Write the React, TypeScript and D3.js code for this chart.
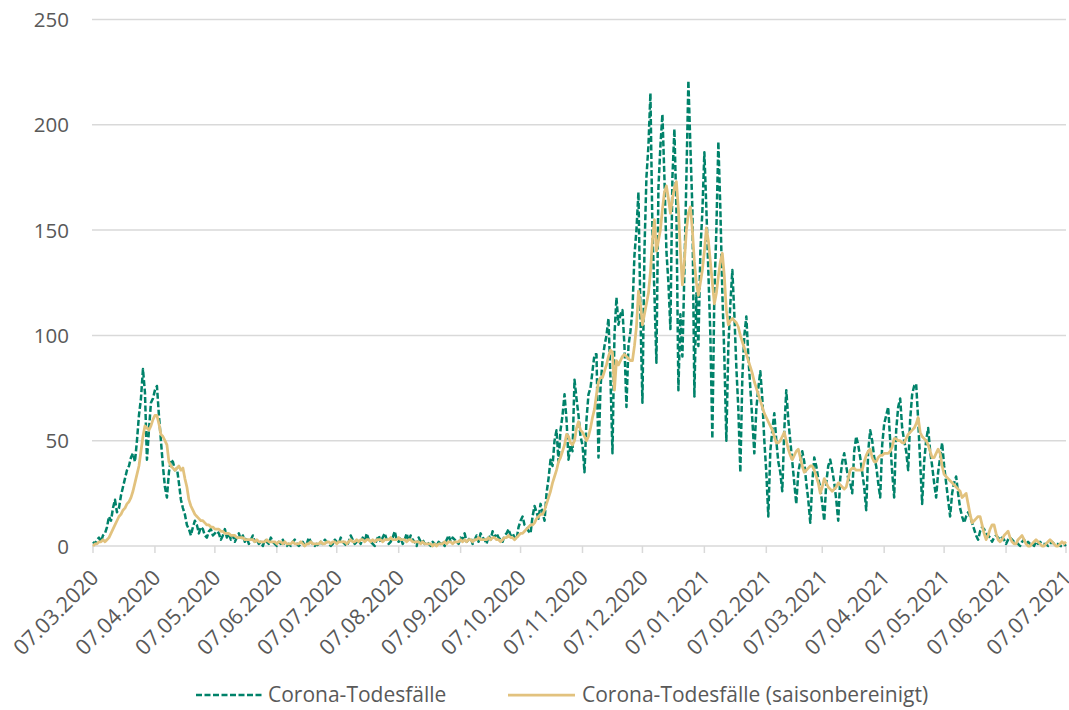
import { scaleLinear, scaleTime, line as d3_line, timeParse, timeDay } from "d3";

// daily values starting 07.03.2020, one row per week (Sat..Fri)
const todesfaelle = [
  2, 1, 3, 4, 2, 5, 6,
  9, 14, 12, 18, 22, 16, 18,
  24, 28, 32, 36, 38, 42, 44,
  40, 50, 62, 70, 84, 73, 41,
  55, 68, 70, 74, 76, 62, 50,
  38, 28, 23, 35, 41, 40, 36,
  37, 30, 22, 18, 15, 10, 8,
  5, 9, 12, 10, 6, 9, 8,
  5, 4, 7, 8, 5, 6, 7,
  6, 3, 5, 8, 4, 6, 3,
  5, 2, 4, 6, 3, 5, 2,
  4, 1, 3, 5, 2, 3, 1,
  2, 0, 3, 2, 1, 4, 2,
  1, 0, 2, 1, 3, 1, 0,
  1, 0, 2, 3, 1, 0, 1,
  2, 0, 1, 4, 2, 1, 0,
  1, 0, 2, 1, 3, 2, 1,
  0, 1, 3, 2, 1, 4, 2,
  1, 0, 2, 5, 3, 1, 2,
  3, 1, 4, 2, 6, 3, 2,
  1, 0, 3, 5, 2, 4, 6,
  3, 1, 2, 4, 7, 3, 2,
  4, 1, 3, 6, 2, 5, 3,
  2, 0, 4, 2, 3, 1, 2,
  1, 0, 2, 1, 0, 2, 1,
  2, 0, 3, 5, 2, 4, 3,
  2, 1, 4, 3, 6, 2, 3,
  4, 1, 3, 5, 2, 6, 4,
  3, 1, 5, 3, 7, 4, 6,
  4, 3, 2, 5, 6, 8, 5,
  6, 4, 3, 9, 12, 14, 10,
  9, 7, 6, 14, 19, 16, 13,
  20, 16, 12, 25, 32, 41, 38,
  50, 55, 40, 55, 62, 72, 60,
  41, 48, 45, 79, 70, 62, 52,
  48, 35, 60, 72, 75, 83, 91,
  91, 42, 75, 88, 95, 100, 108,
  80, 44, 100, 118, 105, 110, 112,
  95, 66, 95, 102, 112, 138, 150,
  168, 110, 68, 140, 175, 190, 215,
  150, 120, 87, 170, 190, 205, 175,
  140, 125, 103, 175, 198, 160, 74,
  110, 90, 130, 175, 221, 190, 160,
  71, 120, 95, 140, 159, 187, 160,
  130, 100, 51, 120, 150, 192, 160,
  120, 90, 50, 95, 115, 131, 110,
  85, 65, 35, 80, 100, 109, 90,
  75, 60, 44, 65, 75, 83, 70,
  50, 35, 14, 45, 55, 63, 50,
  40, 35, 26, 55, 74, 60, 50,
  40, 30, 20, 35, 40, 45, 40,
  30, 22, 11, 30, 42, 38, 32,
  28, 20, 12, 30, 38, 41, 36,
  30, 22, 12, 32, 40, 44, 38,
  32, 30, 25, 45, 52, 48, 42,
  35, 28, 17, 45, 55, 50, 42,
  38, 30, 23, 48, 58, 62, 66,
  50, 35, 23, 55, 66, 70, 56,
  50, 45, 36, 60, 72, 76, 77,
  60, 40, 20, 40, 50, 56, 45,
  38, 30, 23, 35, 42, 49, 38,
  30, 22, 14, 25, 30, 33, 25,
  18, 14, 11, 14, 16, 14, 11,
  8, 5, 3, 7, 9, 8, 6,
  5, 4, 2, 4, 5, 4, 3,
  4, 3, 1, 3, 4, 3, 2,
  2, 1, 0, 2, 3, 1, 2,
  1, 1, 0, 2, 1, 2, 1,
  1, 1, 0, 1, 2, 1, 1,
  1, 0, 0, 1, 0,
];

const saisonbereinigt = [
  0, 1, 1, 2, 2, 3, 2,
  3, 4, 6, 8, 10, 12, 14,
  15, 17, 18, 20, 21, 23, 26,
  30, 34, 38, 45, 52, 57, 56,
  55, 57, 60, 62, 62, 58, 53,
  52, 50, 48, 40, 38, 37, 36,
  37, 38, 36, 37, 32, 28, 22,
  19, 17, 15, 14, 13, 12, 12,
  11, 10, 10, 9, 9, 8, 8,
  8, 7, 7, 6, 6, 6, 5,
  5, 5, 4, 4, 4, 4, 3,
  3, 3, 3, 3, 2, 3, 2,
  2, 2, 2, 3, 2, 2, 2,
  2, 1, 2, 2, 1, 2, 1,
  1, 1, 2, 1, 1, 1, 2,
  1, 0, 1, 1, 2, 1, 1,
  1, 1, 2, 1, 1, 2, 2,
  1, 2, 2, 1, 2, 2, 2,
  2, 1, 2, 3, 2, 2, 3,
  2, 3, 3, 2, 3, 3, 2,
  3, 2, 3, 3, 3, 2, 3,
  3, 3, 4, 3, 3, 3, 4,
  3, 3, 3, 2, 3, 3, 2,
  2, 2, 2, 1, 2, 1, 1,
  1, 1, 0, 1, 0, 1, 1,
  1, 2, 1, 2, 2, 1, 2,
  2, 2, 3, 2, 3, 2, 3,
  3, 2, 3, 3, 4, 3, 3,
  3, 3, 4, 3, 4, 4, 3,
  3, 2, 3, 4, 4, 5, 4,
  4, 3, 4, 5, 6, 6, 7,
  8, 9, 10, 10, 11, 13, 14,
  15, 15, 17, 20, 23, 26, 30,
  33, 36, 40, 42, 45, 48, 53,
  52, 49, 48, 50, 56, 59, 55,
  54, 52, 50, 52, 56, 61, 65,
  72, 78, 80, 80, 83, 86, 90,
  93, 92, 74, 88, 86, 88, 90,
  91, 90, 89, 88, 88, 95, 104,
  121, 115, 105, 110, 115, 120, 130,
  145, 155, 140, 145, 150, 160, 168,
  171, 165, 158, 165, 170, 173, 160,
  140, 124, 135, 150, 158, 161, 150,
  135, 125, 119, 125, 131, 140, 151,
  145, 135, 125, 115, 120, 128, 135,
  139, 128, 112, 105, 107, 108, 107,
  106, 104, 100, 97, 94, 91, 88,
  85, 82, 78, 75, 72, 69, 66,
  63, 61, 59, 57, 55, 52, 49,
  49, 50, 52, 54, 50, 46, 43,
  41, 43, 45, 46, 42, 38, 35,
  36, 37, 38, 38, 36, 33, 30,
  25, 28, 32, 30, 28, 27, 26,
  27, 28, 30, 29, 28, 27, 28,
  32, 36, 37, 37, 36, 36, 36,
  36, 40, 43, 45, 46, 42, 40,
  40, 42, 43, 43, 44, 44, 44,
  45, 47, 51, 51, 50, 50, 49,
  49, 51, 53, 54, 55, 56, 58,
  61, 54, 52, 51, 50, 48, 45,
  42, 42, 44, 46, 44, 38, 34,
  33, 32, 31, 30, 29, 28, 27,
  26, 23, 24, 25, 20, 15, 11,
  12, 13, 14, 14, 10, 6, 3,
  5, 8, 10, 10, 6, 3, 2,
  3, 5, 6, 7, 4, 2, 1,
  1, 3, 4, 5, 3, 1, 0,
  0, 1, 2, 3, 2, 1, 0,
  0, 1, 2, 3, 2, 1, 0,
  0, 1, 2, 1, 2,
];

const startDatum = "07.03.2020";
const xTickLabels = [
  "07.03.2020", "07.04.2020", "07.05.2020", "07.06.2020", "07.07.2020",
  "07.08.2020", "07.09.2020", "07.10.2020", "07.11.2020", "07.12.2020",
  "07.01.2021", "07.02.2021", "07.03.2021", "07.04.2021", "07.05.2021",
  "07.06.2021", "07.07.2021",
];
const yTicks = [0, 50, 100, 150, 200, 250];
const seriesNames = ["Corona-Todesfälle", "Corona-Todesfälle (saisonbereinigt)"];

const WIDTH = 1069;
const HEIGHT = 710;
const FONT = "'Open Sans', 'Noto Sans', sans-serif";
const TEXT = "#595959";
const GRID = "#d9d9d9";
const GREEN = "#00826a";
const GOLD = "#e2c27e";

const parse = timeParse("%d.%m.%Y");

export default function App() {
  const start = parse(startDatum) as Date;
  const tickDates = xTickLabels.map((s) => parse(s) as Date);

  const x = scaleTime()
    .domain([tickDates[0], tickDates[tickDates.length - 1]])
    .range([93, 1066]);
  const y = scaleLinear().domain([0, 250]).range([546, 19.5]);

  const rowsGreen = todesfaelle.map((v, i) => ({ date: timeDay.offset(start, i), v }));
  const rowsGold = saisonbereinigt.map((v, i) => ({ date: timeDay.offset(start, i), v }));

  const line = d3_line<{ date: Date; v: number }>()
    .x((d) => x(d.date))
    .y((d) => y(d.v));

  return (
    <svg
      width={WIDTH}
      height={HEIGHT}
      style={{ position: "absolute", left: 0, top: 0, background: "#fff" }}
      fontFamily={FONT}
    >
      {/* grid lines + y labels */}
      {yTicks.map((t) => (
        <g key={t}>
          {t > 0 && (
            <line x1={92} x2={1066} y1={y(t)} y2={y(t)} stroke={GRID} strokeWidth={1.5} />
          )}
          <text x={69} y={y(t) + 7.5} textAnchor="end" fontSize={20.5} fill={TEXT}>
            {t}
          </text>
        </g>
      ))}

      {/* x axis */}
      <line x1={92} x2={1066} y1={y(0)} y2={y(0)} stroke={GRID} strokeWidth={1.5} />
      {tickDates.map((d, i) => (
        <g key={i} transform={`translate(${x(d)},0)`}>
          <line y1={y(0)} y2={y(0) + 7} stroke={GRID} strokeWidth={1.5} />
          <text
            transform={`translate(7,${y(0) + 33}) rotate(-45)`}
            textAnchor="end"
            fontSize={21.5}
            fill={TEXT}
          >
            {xTickLabels[i]}
          </text>
        </g>
      ))}

      {/* series */}
      <path
        d={line(rowsGreen) ?? ""}
        fill="none"
        stroke={GREEN}
        strokeWidth={2.5}
        strokeDasharray="6,2.5"
        strokeLinejoin="round"
      />
      <path
        d={line(rowsGold) ?? ""}
        fill="none"
        stroke={GOLD}
        strokeWidth={2.75}
        strokeLinejoin="round"
      />

      {/* legend */}
      <g>
        <line x1={196} x2={262} y1={695} y2={695} stroke={GREEN} strokeWidth={2.5} strokeDasharray="6,2.5" />
        <text x={268} y={702} fontSize={21} fill={TEXT}>
          {seriesNames[0]}
        </text>
        <line x1={508} x2={575} y1={695} y2={695} stroke={GOLD} strokeWidth={2.75} />
        <text x={582} y={702} fontSize={21} fill={TEXT}>
          {seriesNames[1]}
        </text>
      </g>
    </svg>
  );
}
